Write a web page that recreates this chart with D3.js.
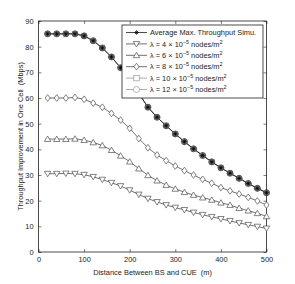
<!DOCTYPE html>
<html>
<head>
<meta charset="utf-8">
<script src="https://cdn.jsdelivr.net/npm/d3@7"></script>
<style>
  body { margin: 0; background: #fff; }
  text { font-family: "Liberation Sans", Arial, sans-serif; fill: #222; white-space: pre; }
</style>
</head>
<body>
<div id="chart"></div>
<script>
// distances (m)
const distances = [20, 40, 60, 80, 100, 120, 140, 160, 180, 200, 220, 240, 260,
  280, 300, 320, 340, 360, 380, 400, 420, 440, 460, 480, 500]

// throughput improvement (Mbps)
const simAvg = [85, 85, 85, 85, 84.2, 82.3, 79.5, 76, 71.8, 67, 61.8, 56.4, 52.5,
  49.2, 46, 43, 40.2, 37.6, 35.1, 32.8, 30.7, 28.7, 26.7, 24.8, 23.1]
const lam4 = [30.5, 30.5, 30.6, 30.5, 30.1, 29.3, 28.2, 27, 25.7, 24.1, 22.4, 20.8, 19.5,
  18.3, 17.3, 16.4, 15.4, 14.5, 13.7, 12.9, 12.1, 11.3, 10.6, 9.9, 9.2]
const lam6 = [44, 44, 44, 44.1, 43.6, 42.7, 41.5, 39.7, 37.5, 35.2, 32.5, 29.9, 27.8,
  26.1, 24.6, 23.3, 22.2, 21.2, 20.3, 19.2, 18.3, 17.1, 16.1, 15.1, 13.9]
const lam8 = [60, 60, 60, 60.2, 59.5, 58, 56.4, 54, 51.4, 48.2, 44.2, 40.6, 37.8,
  35.6, 33.5, 31.7, 30, 28.3, 26.8, 25.1, 23.8, 22.6, 21.3, 19.9, 18.3]
const lam10 = simAvg.slice()
const lam12 = simAvg.slice()

const xTicks = [0, 100, 200, 300, 400, 500]
const yTicks = [0, 10, 20, 30, 40, 50, 60, 70, 80, 90]

const legendLabels = [
  ["Average Max. Throughput Simu.", null],
  ["λ = 4 × 10", "4"],
  ["λ = 6 × 10", "6"],
  ["λ = 8 × 10", "8"],
  ["λ = 10 × 10", "10"],
  ["λ = 12 × 10", "12"]
]

const gc = {
  width: 295,
  height: 284,
  plot: { left: 38.5, right: 266.5, top: 21, bottom: 252 },
  font: 7.4,
  tick: 3
}

const svg = d3.select("#chart").append("svg")
  .attr("width", gc.width)
  .attr("height", gc.height)

const x = d3.scaleLinear().domain([0, 500]).range([gc.plot.left, gc.plot.right])
const y = d3.scaleLinear().domain([0, 90]).range([gc.plot.bottom, gc.plot.top])

// axes, ticks inward on all sides
const axisStyle = g => {
  g.select(".domain").remove()
  g.selectAll("line").attr("stroke", "#000").attr("stroke-width", 0.5)
  g.selectAll("text").style("font-size", gc.font + "px").attr("fill", "#222")
}

svg.append("g")
  .attr("transform", `translate(0,${gc.plot.bottom})`)
  .call(d3.axisBottom(x).tickValues(xTicks).tickSizeInner(-gc.tick).tickSizeOuter(0).tickPadding(5))
  .call(axisStyle)
svg.append("g")
  .attr("transform", `translate(0,${gc.plot.top})`)
  .call(d3.axisTop(x).tickValues(xTicks).tickSizeInner(-gc.tick).tickSizeOuter(0).tickFormat(""))
  .call(axisStyle)
svg.append("g")
  .attr("transform", `translate(${gc.plot.left},0)`)
  .call(d3.axisLeft(y).tickValues(yTicks).tickSizeInner(-gc.tick).tickSizeOuter(0).tickPadding(5))
  .call(axisStyle)
svg.append("g")
  .attr("transform", `translate(${gc.plot.right},0)`)
  .call(d3.axisRight(y).tickValues(yTicks).tickSizeInner(-gc.tick).tickSizeOuter(0).tickFormat(""))
  .call(axisStyle)

svg.append("rect")
  .attr("x", gc.plot.left)
  .attr("y", gc.plot.top)
  .attr("width", gc.plot.right - gc.plot.left)
  .attr("height", gc.plot.bottom - gc.plot.top)
  .attr("fill", "none")
  .attr("stroke", "#000")
  .attr("stroke-width", 0.7)

// axis labels
svg.append("text")
  .attr("x", (gc.plot.left + gc.plot.right) / 2)
  .attr("y", 275)
  .attr("text-anchor", "middle")
  .style("font-size", gc.font + "px")
  .text("Distance Between BS and CUE  (m)")

svg.append("text")
  .attr("transform", `translate(23,${(gc.plot.top + gc.plot.bottom) / 2}) rotate(-90)`)
  .attr("text-anchor", "middle")
  .style("font-size", gc.font + "px")
  .text("Throughput Improvement in One Cell  (Mbps)")

// marker drawing
function drawMarker(g, type, cx, cy, color, filled) {
  const s = 3.2
  if (type === "star") {
    const k = 2.2
    g.append("path")
      .attr("d", `M${cx - k},${cy}H${cx + k}M${cx},${cy - k}V${cy + k}` +
        `M${cx - k * 0.7},${cy - k * 0.7}L${cx + k * 0.7},${cy + k * 0.7}` +
        `M${cx - k * 0.7},${cy + k * 0.7}L${cx + k * 0.7},${cy - k * 0.7}`)
      .attr("stroke", "#000").attr("stroke-width", 0.7)
  } else if (type === "tdown") {
    g.append("path")
      .attr("d", `M${cx - s},${cy - s * 0.75}L${cx + s},${cy - s * 0.75}L${cx},${cy + s * 0.95}Z`)
      .attr("fill", "#fff").attr("stroke", color).attr("stroke-width", 0.6)
  } else if (type === "tup") {
    g.append("path")
      .attr("d", `M${cx - s},${cy + s * 0.75}L${cx + s},${cy + s * 0.75}L${cx},${cy - s * 0.95}Z`)
      .attr("fill", "#fff").attr("stroke", color).attr("stroke-width", 0.6)
  } else if (type === "diamond") {
    g.append("path")
      .attr("d", `M${cx},${cy - s * 1.05}L${cx + s * 0.8},${cy}L${cx},${cy + s * 1.05}L${cx - s * 0.8},${cy}Z`)
      .attr("fill", "#fff").attr("stroke", color).attr("stroke-width", 0.6)
  } else if (type === "square") {
    const h = filled ? s * 0.65 : s * 0.85
    g.append("rect")
      .attr("x", cx - h).attr("y", cy - h)
      .attr("width", h * 2).attr("height", h * 2)
      .attr("fill", filled ? "#666" : "#fff").attr("stroke", color).attr("stroke-width", 0.6)
  } else if (type === "circle") {
    g.append("circle").attr("cx", cx).attr("cy", cy).attr("r", s * 0.95)
      .attr("fill", filled ? "#555" : "#fff").attr("stroke", filled ? "#222" : color).attr("stroke-width", 0.6)
  }
}

const series = [
  { values: lam4, marker: "tdown", color: "#333" },
  { values: lam6, marker: "tup", color: "#333" },
  { values: lam8, marker: "diamond", color: "#333" },
  { values: lam12, marker: "circle", color: "#777", filled: true },
  { values: lam10, marker: "square", color: "#777", filled: true },
  { values: simAvg, marker: "star", color: "#000" }
]

const line = d3.line()
  .x((d, i) => x(distances[i]))
  .y(d => y(d))

const plot = svg.append("g")

series.forEach(sr => {
  plot.append("path")
    .attr("d", line(sr.values))
    .attr("fill", "none")
    .attr("stroke", sr.color)
    .attr("stroke-width", 0.7)
})
series.forEach(sr => {
  sr.values.forEach((v, i) => {
    drawMarker(plot, sr.marker, x(distances[i]), y(v), sr.color, sr.filled)
  })
})

// legend
const lg = { x: 122, y: 25, w: 141, h: 73, row0: 32.5, dy: 11.4 }
const legend = svg.append("g")
legend.append("rect")
  .attr("x", lg.x).attr("y", lg.y)
  .attr("width", lg.w).attr("height", lg.h)
  .attr("fill", "#fff").attr("stroke", "#000").attr("stroke-width", 0.7)

const legendMarkers = ["star", "tdown", "tup", "diamond", "square", "circle"]
const legendColors = ["#000", "#333", "#333", "#333", "#888", "#888"]

legendLabels.forEach((lab, i) => {
  const yy = lg.row0 + i * lg.dy
  legend.append("line")
    .attr("x1", lg.x + 4).attr("x2", lg.x + 25)
    .attr("y1", yy).attr("y2", yy)
    .attr("stroke", legendColors[i]).attr("stroke-width", 0.7)
  drawMarker(legend, legendMarkers[i], lg.x + 14.5, yy, legendColors[i], false)
  const t = legend.append("text")
    .attr("x", lg.x + 28)
    .attr("y", yy + 2.7)
    .style("font-size", gc.font + "px")
  t.append("tspan").text(lab[0])
  if (lab[1] !== null) {
    t.append("tspan").attr("dy", -3).style("font-size", "5.4px").text("−5")
    t.append("tspan").attr("dy", 3).text(" nodes/m")
    t.append("tspan").attr("dy", -3).style("font-size", "5.4px").text("2")
  }
})
</script>
</body>
</html>
